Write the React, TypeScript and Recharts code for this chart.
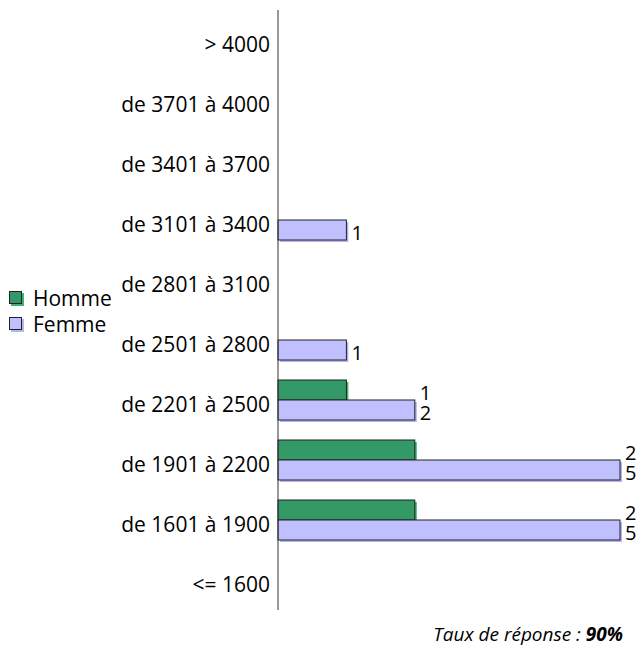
import React from "react";
import { Bar, BarChart, XAxis, YAxis } from "recharts";

const categories = [
  "> 4000",
  "de 3701 à 4000",
  "de 3401 à 3700",
  "de 3101 à 3400",
  "de 2801 à 3100",
  "de 2501 à 2800",
  "de 2201 à 2500",
  "de 1901 à 2200",
  "de 1601 à 1900",
  "<= 1600",
];
const homme = [0, 0, 0, 0, 0, 0, 1, 2, 2, 0];
const femme = [0, 0, 0, 1, 0, 1, 2, 5, 5, 0];

const data = categories.map((cat, i) => ({ cat, homme: homme[i], femme: femme[i] }));

const FONT = "'Open Sans', sans-serif";
const GREEN = "#339966";
const LAVENDER = "#c0c0ff";

function makeShape(fill: string, shadow: string) {
  return (props: any) => {
    const { x, y, width, height, value, payload } = props;
    if (!value || !width) return null;
    const max = Math.max(payload.homme, payload.femme);
    const end = x + (width * max) / value;
    return (
      <g>
        <rect x={x + 2} y={y + 2} width={width} height={height} fill={shadow} />
        <rect x={x} y={y} width={width} height={height} fill={fill} stroke="#222" strokeWidth={1} />
        <text x={end + 5} y={y + height / 2 + 10} fontFamily={FONT} fontSize={20} fill="#000">
          {value}
        </text>
      </g>
    );
  };
}

const CatTick = (props: any) => {
  const { x, y, payload } = props;
  return (
    <text x={x} y={y + 12} textAnchor="end" fontFamily={FONT} fontSize={21} fill="#000">
      {payload.value}
    </text>
  );
};

function LegendBox() {
  const items = [
    { name: "Homme", fill: GREEN, shadow: "#44b077" },
    { name: "Femme", fill: LAVENDER, shadow: "#b4b4f0" },
  ];
  return (
    <div style={{ position: "absolute", left: 9, top: 285, fontFamily: FONT, fontSize: 21 }}>
      {items.map((it) => (
        <div key={it.name} style={{ display: "flex", alignItems: "center", height: 26 }}>
          <span style={{ position: "relative", width: 15, height: 15, marginRight: 9 }}>
            <span style={{ position: "absolute", left: 2, top: 2, width: 13, height: 13, background: it.shadow }} />
            <span
              style={{
                position: "absolute",
                left: 0,
                top: 0,
                width: 11,
                height: 11,
                background: it.fill,
                border: "1px solid #222",
              }}
            />
          </span>
          <span style={{ lineHeight: "26px" }}>{it.name}</span>
        </div>
      ))}
    </div>
  );
}

export default function App() {
  return (
    <div style={{ position: "absolute", left: 0, top: 0, width: 640, height: 648, background: "#fff" }}>
      <BarChart
        width={640}
        height={648}
        data={data}
        layout="vertical"
        margin={{ top: 10, right: 20, bottom: 38, left: 0 }}
        barGap={0}
        barCategoryGap={10}
      >
        <XAxis type="number" domain={[0, 5]} hide />
        <YAxis
          type="category"
          dataKey="cat"
          width={278}
          tickLine={false}
          axisLine={{ stroke: "#333", strokeWidth: 1 }}
          tick={<CatTick />}
          interval={0}
        />
        <Bar dataKey="homme" name="Homme" barSize={20} isAnimationActive={false} shape={makeShape(GREEN, "#44b077")} />
        <Bar dataKey="femme" name="Femme" barSize={20} isAnimationActive={false} shape={makeShape(LAVENDER, "#b4b4f0")} />
      </BarChart>
      <LegendBox />
      <div
        style={{
          position: "absolute",
          right: 17,
          top: 621,
          fontFamily: FONT,
          fontSize: 19,
          fontStyle: "italic",
          color: "#000",
        }}
      >
        Taux de réponse : <b>90%</b>
      </div>
    </div>
  );
}
